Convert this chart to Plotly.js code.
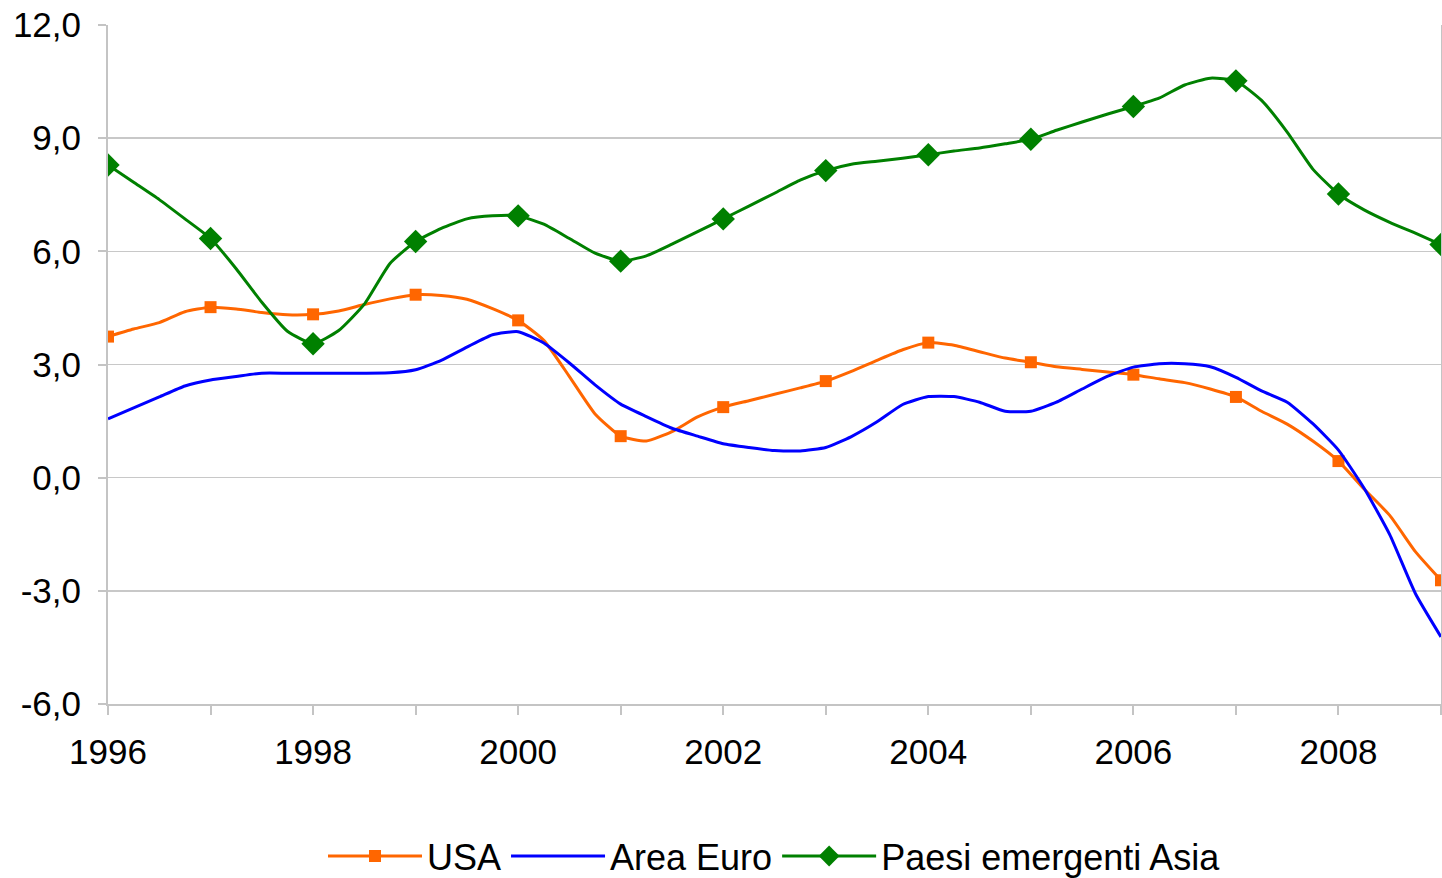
<!DOCTYPE html>
<html>
<head>
<meta charset="utf-8">
<script src="https://cdn.plot.ly/plotly-3.0.1.min.js"></script>
<style>
  html, body { margin: 0; padding: 0; background: #fff; }
  #chart { width: 1442px; height: 878px; }
</style>
</head>
<body>
<div id="chart"></div>
<script>
// Quarterly time axis (1996 Q1 .. 2009 Q1)
const quarters = [
  1996, 1996.25, 1996.5, 1996.75,
  1997, 1997.25, 1997.5, 1997.75,
  1998, 1998.25, 1998.5, 1998.75,
  1999, 1999.25, 1999.5, 1999.75,
  2000, 2000.25, 2000.5, 2000.75,
  2001, 2001.25, 2001.5, 2001.75,
  2002, 2002.25, 2002.5, 2002.75,
  2003, 2003.25, 2003.5, 2003.75,
  2004, 2004.25, 2004.5, 2004.75,
  2005, 2005.25, 2005.5, 2005.75,
  2006, 2006.25, 2006.5, 2006.75,
  2007, 2007.25, 2007.5, 2007.75,
  2008, 2008.25, 2008.5, 2008.75,
  2009
];

const usa = [
  3.74, 3.94, 4.11, 4.40,
  4.52, 4.47, 4.38, 4.32,
  4.33, 4.42, 4.59, 4.74,
  4.85, 4.83, 4.73, 4.48,
  4.17, 3.64, 2.68, 1.69,
  1.10, 0.97, 1.22, 1.61,
  1.87, 2.04, 2.21, 2.38,
  2.56, 2.82, 3.11, 3.39,
  3.58, 3.51, 3.34, 3.17,
  3.06, 2.94, 2.87, 2.80,
  2.73, 2.62, 2.52, 2.35,
  2.14, 1.76, 1.42, 0.97,
  0.44, -0.30, -1.00, -1.96,
  -2.72
];

const areaEuro = [
  1.56, 1.85, 2.14, 2.43,
  2.59, 2.68, 2.77, 2.77,
  2.77, 2.77, 2.77, 2.78,
  2.86, 3.11, 3.46, 3.79,
  3.87, 3.57, 3.04, 2.46,
  1.95, 1.62, 1.31, 1.10,
  0.90, 0.80, 0.72, 0.71,
  0.80, 1.09, 1.48, 1.94,
  2.15, 2.15, 2.00, 1.76,
  1.76, 2.00, 2.35, 2.69,
  2.93, 3.02, 3.02, 2.94,
  2.66, 2.30, 2.00, 1.43,
  0.73, -0.28, -1.51, -3.07,
  -4.22
];

const asia = [
  8.29, 7.83, 7.37, 6.86,
  6.34, 5.54, 4.65, 3.88,
  3.55, 3.90, 4.60, 5.68,
  6.26, 6.61, 6.86, 6.94,
  6.94, 6.72, 6.34, 5.95,
  5.74, 5.88, 6.19, 6.52,
  6.86, 7.20, 7.54, 7.89,
  8.14, 8.31, 8.39, 8.47,
  8.56, 8.66, 8.74, 8.85,
  8.97, 9.21, 9.43, 9.64,
  9.84, 10.06, 10.41, 10.59,
  10.52, 10.00, 9.16, 8.18,
  7.52, 7.10, 6.77, 6.48,
  6.18
];

const seriesNames = ["USA", "Area Euro", "Paesi emergenti Asia"];

const yearTicks = [1996, 1997, 1998, 1999, 2000, 2001, 2002, 2003, 2004, 2005, 2006, 2007, 2008, 2009];
const yearLabels = ["1996", "", "1998", "", "2000", "", "2002", "", "2004", "", "2006", "", "2008", ""];

const yTicks = [-6, -3, 0, 3, 6, 9, 12];
const yLabels = ["-6,0", "-3,0", "0,0", "3,0", "6,0", "9,0", "12,0"];

// markers are shown once per year (first quarter of each year)
const isYear = (_, i) => i % 4 === 0;

const ORANGE = "#FF6600", BLUE = "#0000FF", GREEN = "#008000";
const FONT = "Liberation Sans, Arial, sans-serif";

const traces = [
  // legend-only entries
  { x: [null], y: [null], name: seriesNames[0], mode: "lines+markers", type: "scatter",
    line: { color: ORANGE, width: 3 }, marker: { symbol: "square", size: 12, color: ORANGE }, hoverinfo: "skip" },
  { x: [null], y: [null], name: seriesNames[1], mode: "lines", type: "scatter",
    line: { color: BLUE, width: 3 }, hoverinfo: "skip" },
  { x: [null], y: [null], name: seriesNames[2], mode: "lines+markers", type: "scatter",
    line: { color: GREEN, width: 3 }, marker: { symbol: "diamond", size: 17, color: GREEN }, hoverinfo: "skip" },

  // data lines
  { x: quarters, y: usa, name: seriesNames[0], mode: "lines", type: "scatter", showlegend: false,
    line: { color: ORANGE, width: 3, shape: "spline", smoothing: 0.5 } },
  { x: quarters.filter(isYear), y: usa.filter(isYear), name: seriesNames[0], mode: "markers", type: "scatter", showlegend: false,
    marker: { symbol: "square", size: 12, color: ORANGE } },
  { x: quarters, y: areaEuro, name: seriesNames[1], mode: "lines", type: "scatter", showlegend: false,
    line: { color: BLUE, width: 3, shape: "spline", smoothing: 0.5 } },
  { x: quarters, y: asia, name: seriesNames[2], mode: "lines", type: "scatter", showlegend: false,
    line: { color: GREEN, width: 3, shape: "spline", smoothing: 0.5 } },
  { x: quarters.filter(isYear), y: asia.filter(isYear), name: seriesNames[2], mode: "markers", type: "scatter", showlegend: false,
    marker: { symbol: "diamond", size: 18, color: GREEN } }
];

const layout = {
  width: 1442,
  height: 878,
  margin: { l: 108, r: 1, t: 25, b: 174, pad: 0, autoexpand: false },
  paper_bgcolor: "#ffffff",
  plot_bgcolor: "#ffffff",
  font: { family: FONT, color: "#000000", size: 35 },
  showlegend: true,
  legend: {
    orientation: "h",
    x: 0.5, xanchor: "center",
    y: -0.224, yanchor: "middle",
    font: { family: FONT, size: 36, color: "#000000" },
    itemwidth: 94,
    traceorder: "normal"
  },
  xaxis: {
    range: [1996, 2009],
    tickmode: "array",
    tickvals: yearTicks,
    ticktext: yearLabels,
    ticks: "outside",
    ticklen: 9,
    tickwidth: 2,
    tickcolor: "#c4c4c4",
    ticklabelstandoff: 7,
    showgrid: false,
    zeroline: false,
    showline: true,
    linecolor: "#c4c4c4",
    linewidth: 2,
    mirror: false,
    automargin: false,
    tickfont: { family: FONT, size: 35, color: "#000000" },
    fixedrange: true
  },
  yaxis: {
    range: [-6, 12],
    tickmode: "array",
    tickvals: yTicks,
    ticktext: yLabels,
    ticks: "outside",
    ticklen: 8,
    tickwidth: 2,
    tickcolor: "#c4c4c4",
    ticklabelstandoff: 10,
    showgrid: true,
    gridcolor: "#c8c8c8",
    gridwidth: 1.5,
    zeroline: false,
    showline: true,
    linecolor: "#c4c4c4",
    linewidth: 2,
    mirror: true,
    automargin: false,
    tickfont: { family: FONT, size: 35, color: "#000000" },
    fixedrange: true
  }
};

Plotly.newPlot("chart", traces, layout, { displayModeBar: false, staticPlot: true });
</script>
</body>
</html>
